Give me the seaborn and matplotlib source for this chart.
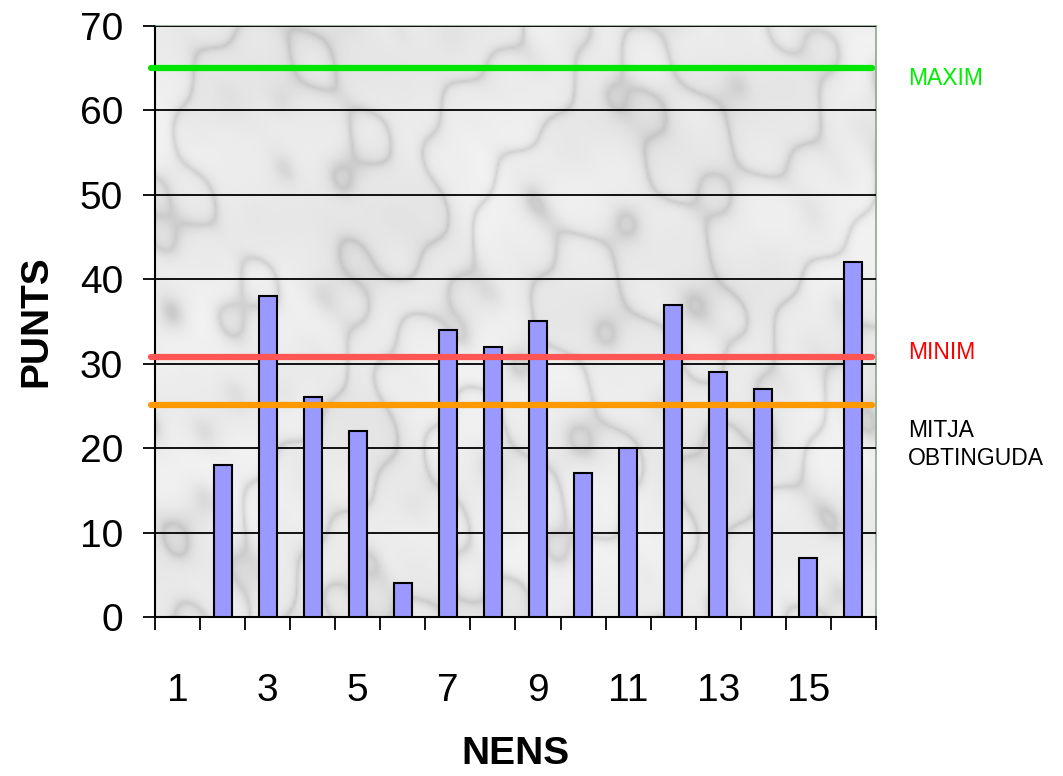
import matplotlib
matplotlib.use("Agg")
import matplotlib.pyplot as plt
import seaborn as sns
import numpy as np
import pandas as pd

# Data
nens = [str(i) for i in range(1, 17)]
punts = [0, 18, 38, 26, 22, 4, 34, 32, 35, 17, 20, 37, 29, 27, 7, 42]
maxim = 65
minim = 30.8
mitja = 25.1
ref_labels = ["MAXIM", "MINIM", "MITJA\nOBTINGUDA"]
ref_values = [maxim, minim, mitja]
ref_line_colors = ["#00e600", "#ff5555", "#ff9900"]
ref_text_colors = ["#00ee00", "#ff0000", "black"]
shown_ticks = ["1", "3", "5", "7", "9", "11", "13", "15"]

sns.set_theme(style="white")
plt.rcParams['font.family'] = ['Liberation Sans', 'DejaVu Sans']
plt.rcParams['text.color'] = 'black'
plt.rcParams['axes.labelcolor'] = 'black'
plt.rcParams['xtick.color'] = 'black'
plt.rcParams['ytick.color'] = 'black'

fig = plt.figure(figsize=(10.63, 7.76), dpi=100)
ax = fig.add_axes([0.1458, 0.2049, 0.6782, 0.7616])

# marble-ish background (deterministic pattern, not data)
h, w = 300, 400
yy, xx = np.mgrid[0:h, 0:w] / 60.0
turb = (np.sin(xx * 1.7 + yy * 0.9) + 0.6 * np.sin(xx * 3.1 - yy * 2.3 + 1.0)
        + 0.4 * np.sin(xx * 5.3 + yy * 4.7 + 2.0) + 0.25 * np.sin(xx * 9.1 - yy * 7.9))
veins = np.abs(np.sin(xx * 2.2 + yy * 1.3 + 1.6 * turb))
blotch = 0.5 + 0.5 * np.sin(xx * 1.3 - yy * 2.1 + turb) * np.sin(yy * 1.9 + xx * 0.7)
img = 0.95 - 0.13 * np.exp(-veins * 3.5) - 0.05 * blotch
ax.imshow(img, cmap="gray", vmin=0, vmax=1, extent=(0, 1, 0, 1),
          transform=ax.transAxes, aspect="auto", zorder=0, interpolation="bilinear")

df = pd.DataFrame({"nens": nens, "punts": punts})
sns.barplot(data=df, x="nens", y="punts", color="#9999ff", saturation=1,
            width=0.4, edgecolor="black", linewidth=1.5, ax=ax, zorder=3)

ax.set_ylim(0, 70)
ax.set_xlim(-0.5, 15.5)
ax.set_yticks(range(0, 71, 10))
ax.yaxis.grid(True, color="black", linewidth=1.3)
ax.set_axisbelow(False)
for gl in ax.get_ygridlines():
    gl.set_zorder(2)

# reference lines
for val, lc in zip(ref_values, ref_line_colors):
    ax.plot([-0.58, 15.42], [val, val], color=lc, linewidth=4.5,
            solid_capstyle="round", clip_on=False, zorder=5)
label_offsets = [-10, 4, -14]
for val, lab, tc, off in zip(ref_values, ref_labels, ref_text_colors, label_offsets):
    multi = "\n" in lab
    ax.annotate(lab, xy=(1.0, val), xycoords=("axes fraction", "data"),
                xytext=(32, off), textcoords="offset pixels",
                va="top" if multi else "center", ha="left",
                fontsize=16.5, color=tc, linespacing=1.3)

# ticks: marks on category boundaries, labels on odd categories
ax.set_xticks(np.arange(-0.5, 16, 1))
ax.set_xticklabels([])
ax.set_xticks([nens.index(t) for t in shown_ticks], minor=True)
ax.set_xticklabels(shown_ticks, minor=True)
ax.tick_params(axis="x", which="major", direction="out", length=9, width=1.3,
               color="black", bottom=True)
ax.tick_params(axis="x", which="minor", length=0, pad=40, labelsize=28)
ax.tick_params(axis="y", direction="out", length=9, width=1.3, color="black",
               left=True, pad=14, labelsize=28)

for side in ["left", "bottom"]:
    ax.spines[side].set_color("black")
    ax.spines[side].set_linewidth(1.5)
for side in ["top", "right"]:
    ax.spines[side].set_color("#8aa88a")
    ax.spines[side].set_linewidth(1.2)

ax.set_xlabel("NENS", fontsize=28, fontweight="bold", labelpad=20)
ax.set_ylabel("PUNTS", fontsize=28, fontweight="bold", labelpad=18)

fig.savefig("out.png", dpi=100)
